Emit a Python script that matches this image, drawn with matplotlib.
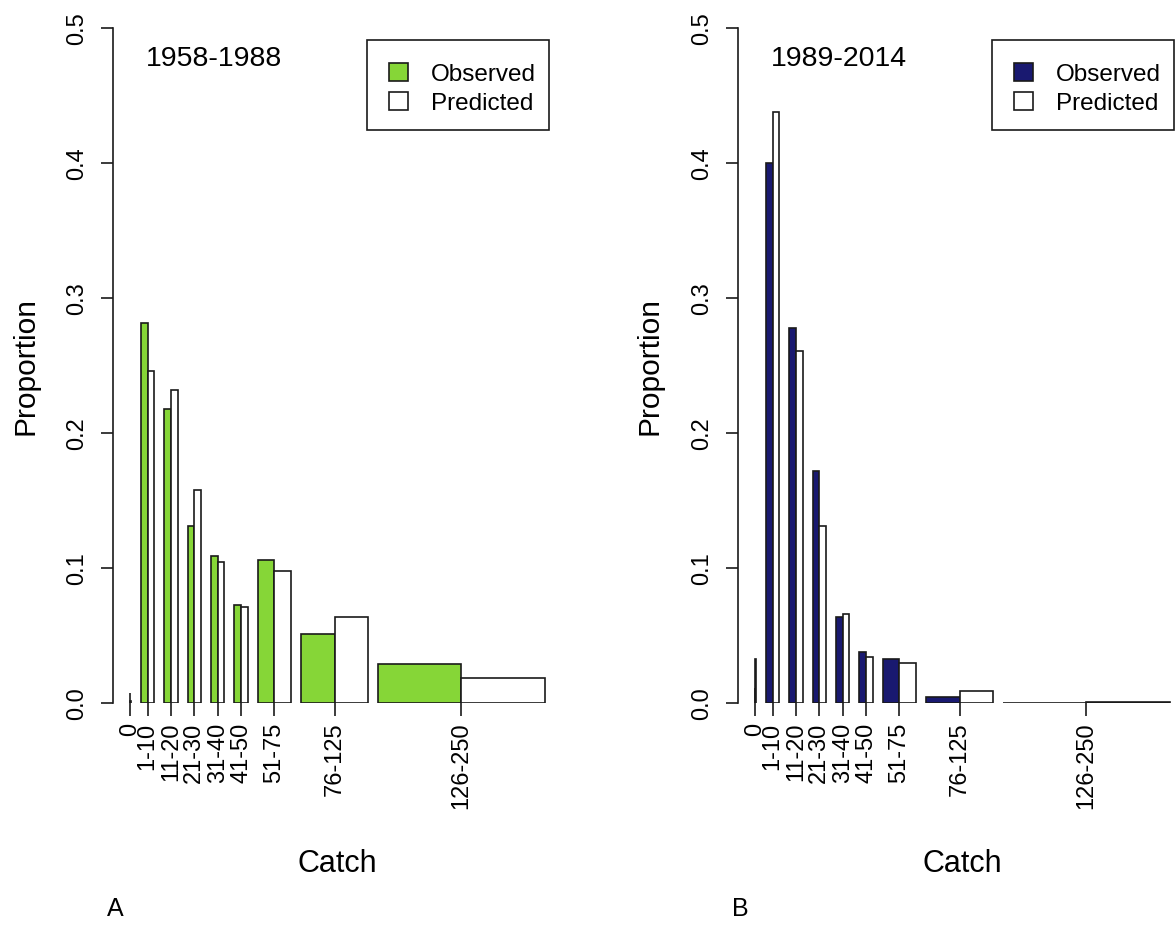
import numpy as np
import matplotlib
matplotlib.use("Agg")
import matplotlib.pyplot as plt
from matplotlib.patches import Rectangle

plt.rcParams['font.family'] = ['Liberation Sans', 'DejaVu Sans']

# catch classes and their widths (number of fish in each class)
catch_bins = ["0", "1-10", "11-20", "21-30", "31-40", "41-50", "51-75", "76-125", "126-250"]
bin_widths = [1, 10, 10, 10, 10, 10, 25, 50, 125]

# proportions
obs_early = [0.008, 0.282, 0.218, 0.131, 0.109, 0.073, 0.106, 0.051, 0.029]
pred_early = [0.002, 0.246, 0.232, 0.158, 0.105, 0.071, 0.098, 0.064, 0.019]
obs_late = [0.011, 0.400, 0.278, 0.172, 0.064, 0.038, 0.033, 0.005, 0.0003]
pred_late = [0.033, 0.438, 0.261, 0.131, 0.066, 0.034, 0.030, 0.009, 0.0012]

W, H = 1175, 930
fig = plt.figure(figsize=(W / 100, H / 100), dpi=100)


def fx(x):
    return x / W


def fy(y):
    return 1 - y / H


# bar positions, like R barplot(beside=TRUE, width=...)
gap = 15
widths = np.array(bin_widths, dtype=float)
lefts = []
cur = 0.0
for w in widths:
    cur += gap
    lefts.append(cur)
    cur += 2 * w
lefts = np.array(lefts)
centers = lefts + widths
lo, hi = lefts[0], cur
xpad = 0.04 * (hi - lo)
edge = '#1a1a1a'


def panel(dx, obs, pred, color, title, letter):
    ax = fig.add_axes([fx(113 + dx), fy(703.3), 448.5 / W, 675 / H])
    ax.bar(lefts, obs, width=widths, align='edge', color=color,
           edgecolor=edge, linewidth=1.2)
    ax.bar(lefts + widths, pred, width=widths, align='edge', color='white',
           edgecolor=edge, linewidth=1.2)
    ax.set_xlim(lo - xpad, hi + xpad)
    ax.set_ylim(0, 0.5)
    for s in ['top', 'right', 'bottom']:
        ax.spines[s].set_visible(False)
    ax.spines['left'].set_linewidth(1.2)
    ax.spines['left'].set_color(edge)
    ax.set_yticks([0, 0.1, 0.2, 0.3, 0.4, 0.5])
    ax.set_yticklabels(["0.0", "0.1", "0.2", "0.3", "0.4", "0.5"],
                       rotation=90, va='center')
    ax.set_xticks(centers)
    ax.set_xticklabels(catch_bins, rotation=90)
    ax.tick_params(axis='both', length=9, width=1.2, color=edge,
                   labelsize=17)
    ax.tick_params(axis='x', pad=5)
    ax.tick_params(axis='y', pad=9)

    # title inside panel
    fig.text(fx(214 + dx), fy(66), title, fontsize=20.5, ha='center', va='baseline')

    # legend box drawn like R's legend()
    fig.patches.append(Rectangle((fx(366.7 + dx), fy(130)), 182.6 / W, 90 / H,
                                 transform=fig.transFigure, facecolor='white',
                                 edgecolor=edge, linewidth=1.2))
    for yb, fc, lab in [(81, color, "Observed"), (110, 'white', "Predicted")]:
        fig.patches.append(Rectangle((fx(389 + dx), fy(yb)), 19 / W, 18 / H,
                                     transform=fig.transFigure, facecolor=fc,
                                     edgecolor=edge, linewidth=1.2))
        fig.text(fx(431 + dx), fy(yb - 0.3), lab, fontsize=17.5, ha='left', va='baseline')

    fig.text(fx(25 + dx), fy(366), "Proportion", fontsize=21.5, rotation=90,
             ha='center', va='center')
    fig.text(fx(337 + dx), fy(872), "Catch", fontsize=22, ha='center', va='baseline')
    fig.text(fx(115 + dx), fy(916), letter, fontsize=18, ha='center', va='baseline')
    return ax


panel(0, obs_early, pred_early, '#86D637', "1958-1988", "A")
panel(625, obs_late, pred_late, '#191970', "1989-2014", "B")

fig.savefig("out.png", dpi=100)
